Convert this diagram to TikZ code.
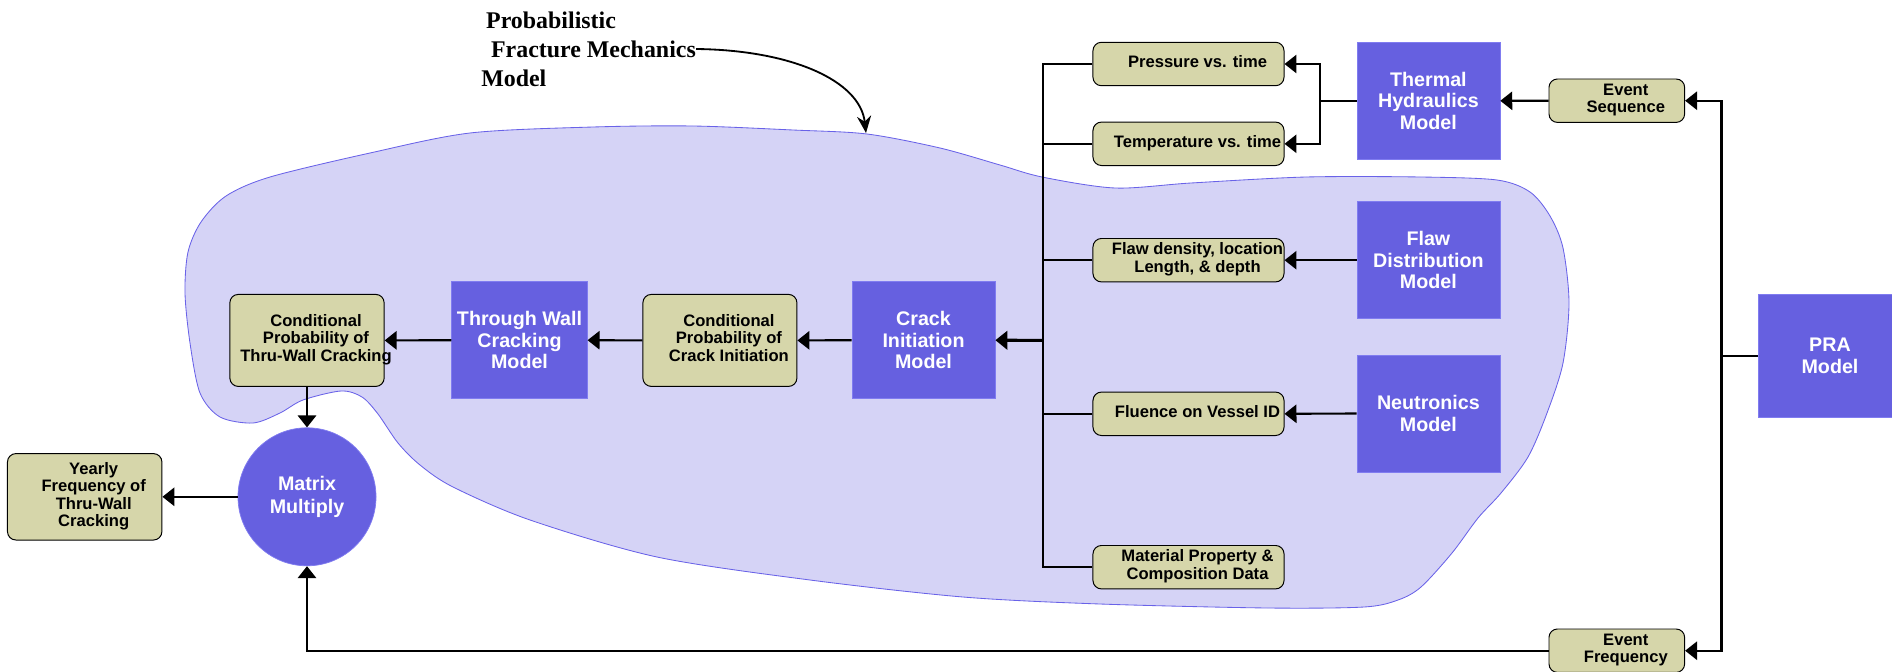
\documentclass[tikz,border=0pt]{standalone}
\usepackage{fontspec}
\setmainfont{Liberation Serif}
\newfontfamily\boxfont{Liberation Sans}
\usetikzlibrary{arrows.meta}

\definecolor{modelblue}{RGB}{102,96,224}
\definecolor{modeledge}{RGB}{128,124,240}
\definecolor{datatan}{RGB}{214,214,170}
\definecolor{blobfill}{RGB}{213,211,246}
\definecolor{blobline}{RGB}{105,98,232}

% text of a data box sits a little right of centre
\newcommand{\boxtext}[1]{\hspace*{6.4pt}\begin{tabular}{@{}c@{}}#1\end{tabular}\hspace*{-6.4pt}}

\begin{document}
\begin{tikzpicture}[x=0.025cm,y=-0.025cm,
    databox/.style={draw=black,line width=0.7pt,fill=datatan,rounded corners=6pt,inner sep=1pt,
      font=\boxfont\bfseries\fontsize{11.8}{12.4}\selectfont},
    modelbox/.style={draw=modeledge,line width=0.5pt,fill=modelblue,text=white,align=center,inner sep=1pt,
      font=\boxfont\bfseries\fontsize{14}{15.4}\selectfont},
    arr/.style={-{Triangle[length=8.5pt,width=13pt]},line width=1.5pt},
    wire/.style={line width=1.5pt}]
            \useasboundingbox (0,0) rectangle (1892,671);
            % the PFM region
            \draw [blobline, fill=blobfill, line width=0.6pt] plot [smooth cycle] coordinates {
                (185,293) (188,252) (201,222) (226,196) (270,177) (370,153) (470,133) (593,127) (693,126)
                (793,130) (867,134) (940,148) (1000,165) (1042,177) (1115,188) (1191,183) (1306,177)
                (1421,177) (1497,180) (1530,192) (1550,216) (1563,248) (1569,303) (1563,363) (1547,413)
                (1528,457) (1501,493) (1478,518) (1452,553) (1421,587) (1398,600) (1364,607) (1268,608)
                (1100,604) (963,597) (810,580) (657,557) (530,520) (453,487) (420,465) (398,443)
                (378,414) (362,397) (341,391) (303,400) (280,413) (253,423) (220,417) (200,393) (190,343)};
            \node (PFM) [anchor=west, align=left, inner sep=0pt, font=\bfseries\fontsize{17}{20.6}\selectfont] at (481,49)
                {\hspace*{3.5pt}Probabilistic\\\hspace*{7pt}Fracture Mechanics\\Model};
            \coordinate (BT) at (866,133);
            \draw [-{Stealth[length=12pt,width=10pt]}, line width=1.3pt] (PFM.east) .. controls (790,50) and (860,80) .. (BT);

            \node (CPT) [databox, minimum width=3.85cm, minimum height=2.3cm] at (307,340.4) {\boxtext{Conditional\\Probability of\\Thru-Wall Cracking}};
            \node (TWC) [modelbox, minimum width=3.385cm, minimum height=2.93cm] at (519.5,340.2) {Through Wall\\Cracking\\Model};
            \node (CPC) [databox, minimum width=3.85cm, minimum height=2.3cm] at (719.9,340.4) {\boxtext{Conditional\\Probability of\\Crack Initiation}};
            \node (CIM) [modelbox, minimum width=3.575cm, minimum height=2.93cm] at (923.5,340.2) {Crack\\Initiation\\Model};
            \node (MM) [modelbox, circle, minimum size=3.45cm, font=\boxfont\bfseries\fontsize{14}{16}\selectfont] at (307,496.8) {Matrix\\Multiply};
            \node (YF) [databox, minimum width=3.86cm, minimum height=2.16cm] at (84.7,496.8) {\boxtext{Yearly\\Frequency of\\Thru-Wall\\Cracking}};
            \node (P) [databox, minimum width=4.775cm, minimum height=1.085cm] at (1188.5,64) {\boxtext{Pressure vs. time}};
            \node (T) [databox, minimum width=4.775cm, minimum height=1.085cm] at (1188.5,143.8) {\boxtext{Temperature vs. time}};
            \node (FD) [databox, minimum width=4.775cm, minimum height=1.085cm] at (1188.5,260.2) {\boxtext{Flaw density, location\\Length, \& depth}};
            \node (FL) [databox, minimum width=4.775cm, minimum height=1.085cm] at (1188.5,413.8) {\boxtext{Fluence on Vessel ID}};
            \node (MP) [databox, minimum width=4.775cm, minimum height=1.085cm] at (1188.5,567.2) {\boxtext{Material Property \&\\Composition Data}};
            \node (TH) [modelbox, minimum width=3.575cm, minimum height=2.94cm] at (1428.4,100.8) {Thermal\\Hydraulics\\Model};
            \node (FDM) [modelbox, minimum width=3.575cm, minimum height=2.93cm] at (1428.4,260.2) {Flaw\\Distribution\\Model};
            \node (NM) [modelbox, minimum width=3.575cm, minimum height=2.93cm] at (1428.4,413.5) {Neutronics\\Model};
            \node (ES) [databox, minimum width=3.39cm, minimum height=1.085cm] at (1616.8,100.7) {\boxtext{Event\\Sequence}};
            \node (EF) [databox, minimum width=3.39cm, minimum height=1.085cm] at (1616.8,650.7) {\boxtext{Event\\Frequency}};
            \node (PRA) [modelbox, minimum width=3.575cm, minimum height=3.08cm] at (1830,355.6) {PRA\\Model};

            % inputs to crack initiation
            \draw [wire] (P.west) -- ++(-49.4,0) |- (MP.west);
            \draw [wire] (T.west) -- ++(-49.4,0);
            \draw [wire] (FD.west) -- ++(-49.4,0);
            \draw [wire] (FL.west) -- ++(-49.4,0);
            \coordinate (CB) at (1043.6,340.4);
            \draw [arr, line width=2.2pt] (CB) -- (CIM.east);
            \draw [arr] (CIM.west) -- (CPC.east);
            \draw [arr] (CPC.west) -- (TWC.east);
            \draw [arr] (TWC.west) -- (CPT.east);
            \draw [arr] (CPT.south) -- (MM.north);
            \draw [arr] (MM.west) -- (YF.east);
            \draw [arr] (TH.west) -- ++(-36.5,0) |- (P.east);
            \draw [arr] (TH.west) -- ++(-36.5,0) |- (T.east);
            \draw [arr] (FDM.west) -- (FD.east);
            \draw [arr] (NM.west) -- (FL.east);
            \draw [arr] (ES.west) -- (TH.east);
            \draw [wire] (PRA.west) -- ++(-36.7,0) coordinate (PB);
            \draw [arr] (PB) |- (ES.east);
            \draw [arr] (PB) |- (EF.east);
            \draw [arr] (EF.west) -| (MM.south);
        \end{tikzpicture}
\end{document}
